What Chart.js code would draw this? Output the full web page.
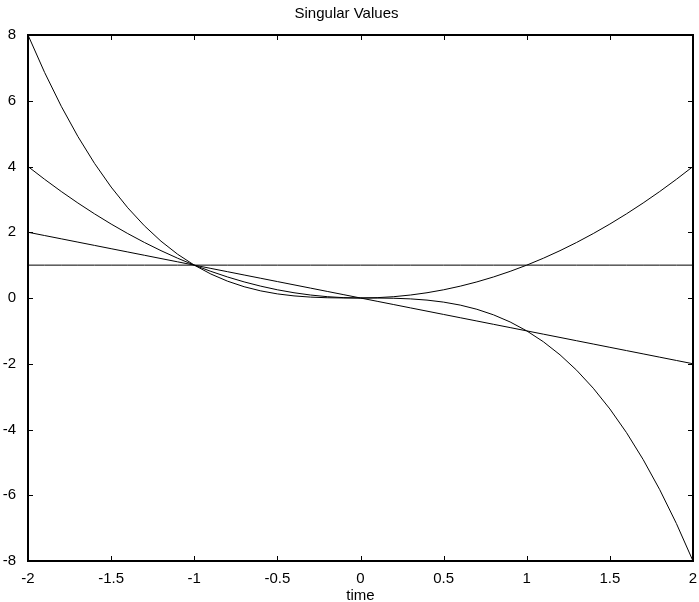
<!DOCTYPE html>
<html>
<head>
<meta charset="utf-8">
<script src="https://cdn.jsdelivr.net/npm/chart.js@4/dist/chart.umd.min.js"></script>
<style>
  html, body { margin: 0; padding: 0; background: #fff; }
  #wrap { width: 699px; height: 602px; }
</style>
</head>
<body>
<div id="wrap"><canvas id="chart" width="699" height="602"></canvas></div>
<script>
// time axis samples
const times = [-2, -1.9, -1.8, -1.7, -1.6, -1.5, -1.4, -1.3, -1.2, -1.1, -1,
  -0.9, -0.8, -0.7, -0.6, -0.5, -0.4, -0.3, -0.2, -0.1, 0,
  0.1, 0.2, 0.3, 0.4, 0.5, 0.6, 0.7, 0.8, 0.9, 1,
  1.1, 1.2, 1.3, 1.4, 1.5, 1.6, 1.7, 1.8, 1.9, 2];

// singular value curves
const svCubic = [8, 6.859, 5.832, 4.913, 4.096, 3.375, 2.744, 2.197, 1.728, 1.331, 1,
  0.729, 0.512, 0.343, 0.216, 0.125, 0.064, 0.027, 0.008, 0.001, 0,
  -0.001, -0.008, -0.027, -0.064, -0.125, -0.216, -0.343, -0.512, -0.729, -1,
  -1.331, -1.728, -2.197, -2.744, -3.375, -4.096, -4.913, -5.832, -6.859, -8];
const svSquare = [4, 3.61, 3.24, 2.89, 2.56, 2.25, 1.96, 1.69, 1.44, 1.21, 1,
  0.81, 0.64, 0.49, 0.36, 0.25, 0.16, 0.09, 0.04, 0.01, 0,
  0.01, 0.04, 0.09, 0.16, 0.25, 0.36, 0.49, 0.64, 0.81, 1,
  1.21, 1.44, 1.69, 1.96, 2.25, 2.56, 2.89, 3.24, 3.61, 4];
const svLinear = [2, 1.9, 1.8, 1.7, 1.6, 1.5, 1.4, 1.3, 1.2, 1.1, 1,
  0.9, 0.8, 0.7, 0.6, 0.5, 0.4, 0.3, 0.2, 0.1, 0,
  -0.1, -0.2, -0.3, -0.4, -0.5, -0.6, -0.7, -0.8, -0.9, -1,
  -1.1, -1.2, -1.3, -1.4, -1.5, -1.6, -1.7, -1.8, -1.9, -2];
const svConst = [1, 1, 1, 1, 1, 1, 1, 1, 1, 1, 1,
  1, 1, 1, 1, 1, 1, 1, 1, 1, 1,
  1, 1, 1, 1, 1, 1, 1, 1, 1, 1,
  1, 1, 1, 1, 1, 1, 1, 1, 1, 1];

const xTicks = [-2, -1.5, -1, -0.5, 0, 0.5, 1, 1.5, 2];
const yTicks = [-8, -6, -4, -2, 0, 2, 4, 6, 8];

const FONT = "'Liberation Sans', Arial, Helvetica, sans-serif";

function toPoints(ys) {
  return times.map((t, i) => ({ x: t, y: ys[i] }));
}

function lineSet(ys) {
  return {
    data: toPoints(ys),
    borderColor: '#000',
    borderWidth: 1,
    pointRadius: 0,
    tension: 0,
    fill: false
  };
}

// box around the plot with inward tick marks on all four sides
const frameTicks = {
  id: 'frameTicks',
  afterDatasetsDraw(chart) {
    const { ctx, chartArea: a, scales } = chart;
    const len = 5;
    ctx.save();
    ctx.strokeStyle = '#000';
    ctx.lineWidth = 2;
    ctx.beginPath();
    ctx.rect(Math.round(a.left), Math.round(a.top),
      Math.round(a.right - a.left), Math.round(a.bottom - a.top));
    ctx.stroke();
    ctx.lineWidth = 1;
    ctx.beginPath();
    xTicks.forEach(v => {
      const px = Math.round(scales.x.getPixelForValue(v)) + 0.5;
      ctx.moveTo(px, a.bottom); ctx.lineTo(px, a.bottom - len);
      ctx.moveTo(px, a.top); ctx.lineTo(px, a.top + len);
    });
    yTicks.forEach(v => {
      const py = Math.round(scales.y.getPixelForValue(v)) + 0.5;
      ctx.moveTo(a.left, py); ctx.lineTo(a.left + len, py);
      ctx.moveTo(a.right, py); ctx.lineTo(a.right - len, py);
    });
    ctx.stroke();
    ctx.restore();
  }
};

new Chart(document.getElementById('chart'), {
  type: 'line',
  data: {
    datasets: [lineSet(svCubic), lineSet(svSquare), lineSet(svLinear), lineSet(svConst)]
  },
  options: {
    responsive: false,
    animation: false,
    layout: { padding: { left: 0, right: 6, top: 0, bottom: 0 } },
    plugins: {
      legend: { display: false },
      tooltip: { enabled: false },
      title: {
        display: true,
        text: 'Singular Values',
        color: '#000',
        font: { family: FONT, size: 15, weight: 'normal' },
        padding: { top: 5, bottom: 12 }
      }
    },
    scales: {
      x: {
        type: 'linear',
        min: -2,
        max: 2,
        grid: { display: false },
        border: { display: false },
        afterBuildTicks(scale) { scale.ticks = xTicks.map(v => ({ value: v })); },
        afterFit(scale) { scale.height = 41; },
        ticks: {
          color: '#000',
          padding: 1,
          maxRotation: 0,
          autoSkip: false,
          font: { family: FONT, size: 15 },
          callback: v => String(v)
        },
        title: {
          display: true,
          text: 'time',
          color: '#000',
          font: { family: FONT, size: 15 },
          padding: { top: 0, bottom: -3 }
        }
      },
      y: {
        type: 'linear',
        min: -8,
        max: 8,
        grid: { display: false },
        border: { display: false },
        afterBuildTicks(scale) { scale.ticks = yTicks.map(v => ({ value: v })); },
        afterFit(scale) { scale.width = 28; },
        ticks: {
          color: '#000',
          padding: 4,
          autoSkip: false,
          font: { family: FONT, size: 15 },
          callback: v => String(v)
        }
      }
    }
  },
  plugins: [frameTicks]
});
</script>
</body>
</html>
